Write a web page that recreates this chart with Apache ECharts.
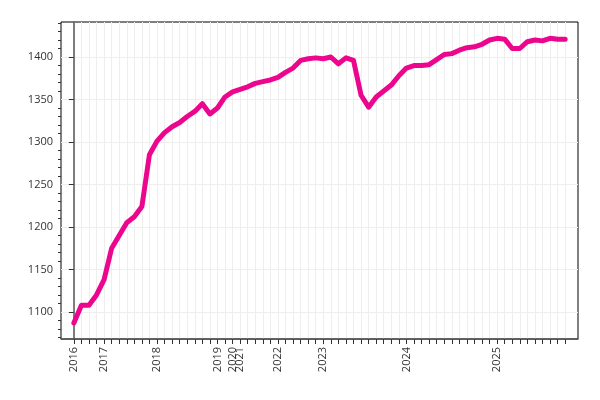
<!DOCTYPE html>
<html>
<head>
<meta charset="utf-8">
<script src="https://cdn.jsdelivr.net/npm/echarts@6/dist/echarts.min.js"></script>
<style>html,body{margin:0;padding:0;background:#fff;}#chart{width:600px;height:400px;}</style>
</head>
<body>
<div id="chart"></div>
<script>
// Series values, one per observation (ordinal x positions)
const values = [
  1087, 1108, 1108, 1120, 1138, 1175, 1190, 1205, 1212, 1224,
  1285, 1301, 1311, 1318, 1323, 1330, 1336, 1345, 1333, 1340,
  1353, 1359, 1362, 1365, 1369, 1371, 1373, 1376, 1382, 1387,
  1396, 1398, 1399, 1398, 1400, 1392, 1399, 1396, 1355, 1341,
  1353, 1360, 1367, 1378, 1387, 1390, 1390, 1391, 1397, 1403,
  1404, 1408, 1411, 1412, 1415, 1420, 1422, 1421, 1410, 1410,
  1418, 1420, 1419, 1422, 1421, 1421
];
// Year tick labels and the observation index where each year starts
const yearLabels = ['2016', '2017', '2018', '2019', '2020', '2021', '2022', '2023', '2024', '2025'];
const yearIndex = [0, 4, 11, 19, 21, 22, 27, 33, 44, 56];
// Y axis tick values
const yMajorTicks = [1100, 1150, 1200, 1250, 1300, 1350, 1400];
const yMinorTicks = [1070, 1080, 1090, 1110, 1120, 1130, 1140, 1160, 1170, 1180, 1190,
  1210, 1220, 1230, 1240, 1260, 1270, 1280, 1290, 1310, 1320, 1330, 1340,
  1360, 1370, 1380, 1390, 1410, 1420, 1430, 1440];

const idx = values.map((v, i) => i);
const labelMap = {};
yearIndex.forEach((ix, k) => { labelMap[ix] = yearLabels[k]; });

const chart = echarts.init(document.getElementById('chart'), null, {renderer: 'canvas'});
const font = 'Open Sans';
chart.setOption({
  animation: false,
  backgroundColor: '#fff',
  grid: {left: 61, right: 22, top: 22, bottom: 61, show: true, borderColor: '#000', borderWidth: 1, backgroundColor: 'transparent'},
  xAxis: {
    type: 'value', min: -1.7, max: 66.7,
    axisLine: {show: true, onZero: false, lineStyle: {color: '#555', width: 1.5}},
    axisTick: {show: true, customValues: idx, length: 5, lineStyle: {color: '#333'}},
    axisLabel: {customValues: yearIndex, rotate: 90, margin: 8, color: '#333', fontFamily: font, fontSize: 11,
      formatter: v => labelMap[v] || ''},
    splitLine: {show: true, lineStyle: {color: '#eeeeee', width: 1}}
  },
  yAxis: [{
    type: 'value', min: 1068.2, max: 1441.2,
    axisLine: {show: true, lineStyle: {color: '#555', width: 1.5}},
    axisTick: {show: true, customValues: yMajorTicks, length: 5, lineStyle: {color: '#333'}},
    axisLabel: {customValues: yMajorTicks, color: '#333', fontFamily: font, fontSize: 11, margin: 8,
      formatter: v => String(v)},
    splitLine: {show: true, lineStyle: {color: '#eeeeee', width: 1}}
  }, {
    type: 'value', min: 1068.2, max: 1441.2, position: 'left',
    axisLine: {show: false},
    axisTick: {show: true, customValues: yMinorTicks, length: 3, lineStyle: {color: '#333'}},
    axisLabel: {show: false},
    splitLine: {show: false}
  }],
  series: [{
    type: 'line',
    data: values.map((v, i) => [i, v]),
    showSymbol: false,
    symbol: 'none',
    lineStyle: {color: '#ec068d', width: 5, join: 'round', cap: 'round'}
  }]
});
</script>
</body>
</html>
